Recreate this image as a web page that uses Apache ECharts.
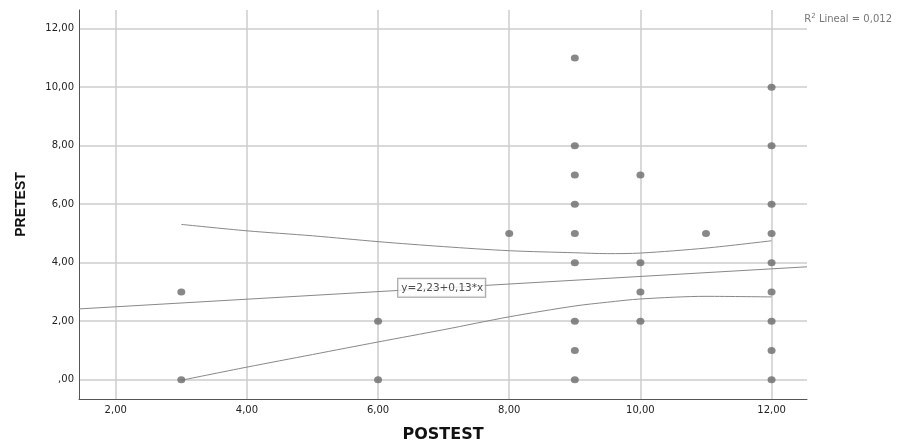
<!DOCTYPE html>
<html>
<head>
<meta charset="utf-8">
<script src="https://cdn.jsdelivr.net/npm/echarts@6/dist/echarts.min.js"></script>
<style>html,body{margin:0;padding:0;background:#fff;}#c{width:898px;height:446px;}</style>
</head>
<body>
<div id="c"></div>
<script>
// Observed points [POSTEST, PRETEST]
var points = [
  [3, 3], [3, 0],
  [6, 2], [6, 0],
  [8, 5],
  [9, 11], [9, 8], [9, 7], [9, 6], [9, 5], [9, 4], [9, 2], [9, 1], [9, 0],
  [10, 7], [10, 4], [10, 3], [10, 2],
  [11, 5],
  [12, 10], [12, 8], [12, 6], [12, 5], [12, 4], [12, 3], [12, 2], [12, 1], [12, 0]
];
// Fit line end points (read at the plot edges)
var fitLine = [[1.44, 2.42], [12.54, 3.86]];
var fitLabel = 'y=2,23+0,13*x';
var fitLabelPos = [6.97, 3.14];
// Confidence band curves
var ciX = [3, 4, 5, 6, 7, 8, 9, 9.5, 10, 11, 12];
var ciUpper = [5.31, 5.09, 4.92, 4.72, 4.55, 4.41, 4.34, 4.31, 4.33, 4.50, 4.75];
var ciLower = [-0.02, 0.43, 0.86, 1.29, 1.71, 2.15, 2.52, 2.65, 2.76, 2.85, 2.83];
var r2Text = 'Lineal = 0,012';
var xRange = [1.44, 12.54];
var yRange = [-0.66, 12.64];

function fmt(v) {
  var s = v.toFixed(2).replace('.', ',');
  if (s.indexOf('0,') === 0) s = s.slice(1);
  return s;
}
function zip(xs, ys) { return xs.map(function (x, i) { return [x, ys[i]]; }); }

var gridLine = { show: true, showMinLine: false, showMaxLine: false, lineStyle: { color: '#cccccc', width: 1.5 } };
var axisLabel = { color: '#222', fontSize: 10, fontFamily: 'DejaVu Sans', showMinLabel: false, showMaxLabel: false, formatter: fmt };

var chart = echarts.init(document.getElementById('c'), null, { renderer: 'canvas' });
chart.setOption({
  animation: false,
  backgroundColor: '#ffffff',
  grid: { left: 79, right: 91, top: 10, bottom: 47, containLabel: false, outerBoundsMode: 'none' },
  xAxis: {
    type: 'value', min: xRange[0], max: xRange[1], minInterval: 2, maxInterval: 2,
    name: 'POSTEST', nameLocation: 'middle', nameGap: 28,
    nameTextStyle: { fontFamily: 'DejaVu Sans', fontWeight: 'bold', fontSize: 16, color: '#111' },
    axisLine: { show: true, onZero: false, lineStyle: { color: '#555', width: 1 } },
    axisTick: { show: false },
    axisLabel: Object.assign({ margin: 6 }, axisLabel),
    splitLine: gridLine
  },
  yAxis: {
    type: 'value', min: yRange[0], max: yRange[1], minInterval: 2, maxInterval: 2,
    name: 'PRETEST', nameLocation: 'middle', nameGap: 51, nameRotate: 90,
    nameTextStyle: { fontFamily: 'Liberation Sans', fontWeight: 'bold', fontSize: 14, color: '#111' },
    axisLine: { show: true, onZero: false, lineStyle: { color: '#555', width: 1 } },
    axisTick: { show: false },
    axisLabel: Object.assign({ margin: 5 }, axisLabel),
    splitLine: gridLine
  },
  title: {
    text: '{s|R}{sup|2}{s| ' + r2Text + '}',
    right: 1, top: 8,
    textStyle: {
      fontWeight: 'normal',
      rich: {
        s: { fontFamily: 'DejaVu Sans', fontSize: 10, fontWeight: 'normal', color: '#777' },
        sup: { fontFamily: 'DejaVu Sans', fontSize: 7, fontWeight: 'normal', color: '#777', verticalAlign: 'top', padding: [0, 0, 5, 0] }
      }
    }
  },
  series: [
    {
      type: 'line', data: zip(ciX, ciUpper), smooth: 0.3, symbol: 'none',
      lineStyle: { color: '#888', width: 1 }, z: 3, silent: true
    },
    {
      type: 'line', data: zip(ciX, ciLower), smooth: 0.3, symbol: 'none',
      lineStyle: { color: '#888', width: 1 }, z: 3, silent: true
    },
    {
      type: 'line', data: fitLine, symbol: 'none',
      lineStyle: { color: '#888', width: 1 }, z: 3, silent: true
    },
    {
      type: 'scatter', data: points, symbol: 'circle', symbolSize: [8, 7],
      itemStyle: { color: '#6a6a6a' }, z: 4
    },
    {
      type: 'scatter', data: [fitLabelPos], symbolSize: 0, z: 6,
      label: {
        show: true, position: 'inside', formatter: fitLabel,
        fontFamily: 'DejaVu Sans', fontSize: 10.5, color: '#222',
        backgroundColor: '#fff', borderColor: '#888', borderWidth: 1, padding: [4, 2, 3, 3]
      }
    }
  ]
});
</script>
</body>
</html>
